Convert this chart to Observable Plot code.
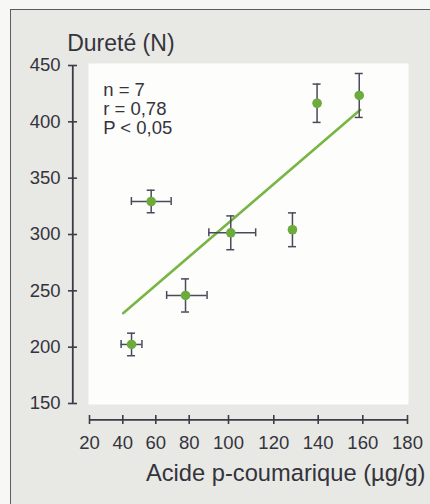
<!DOCTYPE html>
<html>
<head>
<meta charset="utf-8">
<script src="https://cdn.jsdelivr.net/npm/d3@7"></script>
<script src="https://cdn.jsdelivr.net/npm/@observablehq/plot@0.6"></script>
<style>
  html, body { margin: 0; padding: 0; background: #f7f7f5; }
  #wrap { position: relative; width: 430px; height: 504px; overflow: hidden; }
  #frame { position: absolute; left: 10px; top: 9px; width: 440px; height: 520px;
           border-left: 1.6px solid #5c5c63; border-top: 1.6px solid #5c5c63; background: #e8e8e5; }
  #chart { position: absolute; left: 0; top: 0; }
</style>
</head>
<body>
<div id="wrap"><div id="frame"></div><div id="chart"></div></div>
<script>
// Data
const acide     = [45.3, 57.2, 77.8, 101.0, 128.4, 139.5, 158.4];   // µg/g
const durete    = [202.4, 329.3, 245.9, 301.5, 304.2, 416.5, 423.4]; // N
const errAcide  = [6.3, 12.0, 11.3, 11.0, 0, 0, 0];
const errDurete = [10.0, 10.0, 14.7, 15.0, 15.0, 17.0, 19.5];
const regAcide  = [40.2, 158.9];
const regDurete = [230.2, 410.7];
const xTicks = [20, 40, 60, 80, 100, 120, 140, 160, 180];
const yTicks = [150, 200, 250, 300, 350, 400, 450];
const yTitle = "Dureté (N)";
const xTitle = "Acide p-coumarique (µg/g)";
const annotLines = ["n = 7", "r = 0,78", "P < 0,05"];

const pts = acide.map((x, i) => ({x, y: durete[i], ex: errAcide[i], ey: errDurete[i]}));
const ptsEx = pts.filter(d => d.ex > 0);
const reg = regAcide.map((x, i) => ({x, y: regDurete[i]}));

const axisCol = "#3b3b4a";
const textCol = "#34343c";
const errCol = "#4a4a5c";
const green = "#6cab3c";
const font = "'Liberation Sans', Arial, sans-serif";

const chart = Plot.plot({
  width: 430,
  height: 504,
  marginLeft: 89,
  marginRight: 23,
  marginTop: 65,
  marginBottom: 101,
  style: {background: "transparent", fontFamily: font, color: textCol},
  x: {type: "linear", domain: xTicks, range: [89, 122.3, 155.3, 188.7, 228, 273.3, 317.7, 362.3, 407]},
  y: {domain: [150, 450], range: [403, 65]},
  marks: [
    Plot.frame({fill: "#fdfdfc", stroke: "none", insetLeft: -1, insetRight: -1, insetTop: -2, insetBottom: -1}),
    // axes
    Plot.ruleX([xTicks[0]], {y1: yTicks[0], y2: yTicks[yTicks.length - 1], dx: -16.7, stroke: axisCol, strokeWidth: 1.8}),
    Plot.axisY({ticks: yTicks, tickFormat: d => String(d), tickSize: 9, tickPadding: 8, dx: -12, stroke: axisCol, strokeWidth: 1.6, fill: textCol, fontSize: 18.5, label: null}),
    Plot.ruleY([yTicks[0]], {x1: xTicks[0], x2: xTicks[xTicks.length - 1], dy: 16.3, stroke: axisCol, strokeWidth: 1.8}),
    Plot.axisX({ticks: xTicks, tickFormat: d => String(d), tickSize: 9, tickPadding: 11.5, dy: 12, stroke: axisCol, strokeWidth: 1.6, fill: textCol, fontSize: 18.5, label: null}),
    // titles
    Plot.text([yTitle], {frameAnchor: "top-left", text: d => d, dx: -22.3, dy: -15, textAnchor: "start", lineAnchor: "bottom", fontSize: 23, fill: textCol}),
    Plot.text([xTitle], {frameAnchor: "bottom-right", text: d => d, dx: 18, dy: 77.5, textAnchor: "end", lineAnchor: "bottom", fontSize: 23.7, fill: textCol}),
    Plot.text([annotLines.join("\n")], {frameAnchor: "top-left", text: d => d, dx: 13.7, dy: 17.3, textAnchor: "start", lineAnchor: "top", fontSize: 18.5, lineHeight: 1.03, fill: textCol}),
    // regression line
    Plot.line(reg, {x: "x", y: "y", stroke: "#78b644", strokeWidth: 2.6}),
    // error bars (vertical)
    Plot.ruleX(pts, {x: "x", y1: d => d.y - d.ey, y2: d => d.y + d.ey, stroke: errCol, strokeWidth: 1.5}),
    Plot.ruleY(pts, {y: d => d.y - d.ey, x1: "x", x2: "x", insetLeft: -4, insetRight: -4, stroke: errCol, strokeWidth: 1.5}),
    Plot.ruleY(pts, {y: d => d.y + d.ey, x1: "x", x2: "x", insetLeft: -4, insetRight: -4, stroke: errCol, strokeWidth: 1.5}),
    // error bars (horizontal)
    Plot.ruleY(ptsEx, {y: "y", x1: d => d.x - d.ex, x2: d => d.x + d.ex, stroke: errCol, strokeWidth: 1.5}),
    Plot.ruleX(ptsEx, {x: d => d.x - d.ex, y1: "y", y2: "y", insetTop: -4, insetBottom: -4, stroke: errCol, strokeWidth: 1.5}),
    Plot.ruleX(ptsEx, {x: d => d.x + d.ex, y1: "y", y2: "y", insetTop: -4, insetBottom: -4, stroke: errCol, strokeWidth: 1.5}),
    // points
    Plot.dot(pts, {x: "x", y: "y", r: 4.8, fill: green, stroke: "none"})
  ]
});
document.getElementById("chart").appendChild(chart);
</script>
</body>
</html>
